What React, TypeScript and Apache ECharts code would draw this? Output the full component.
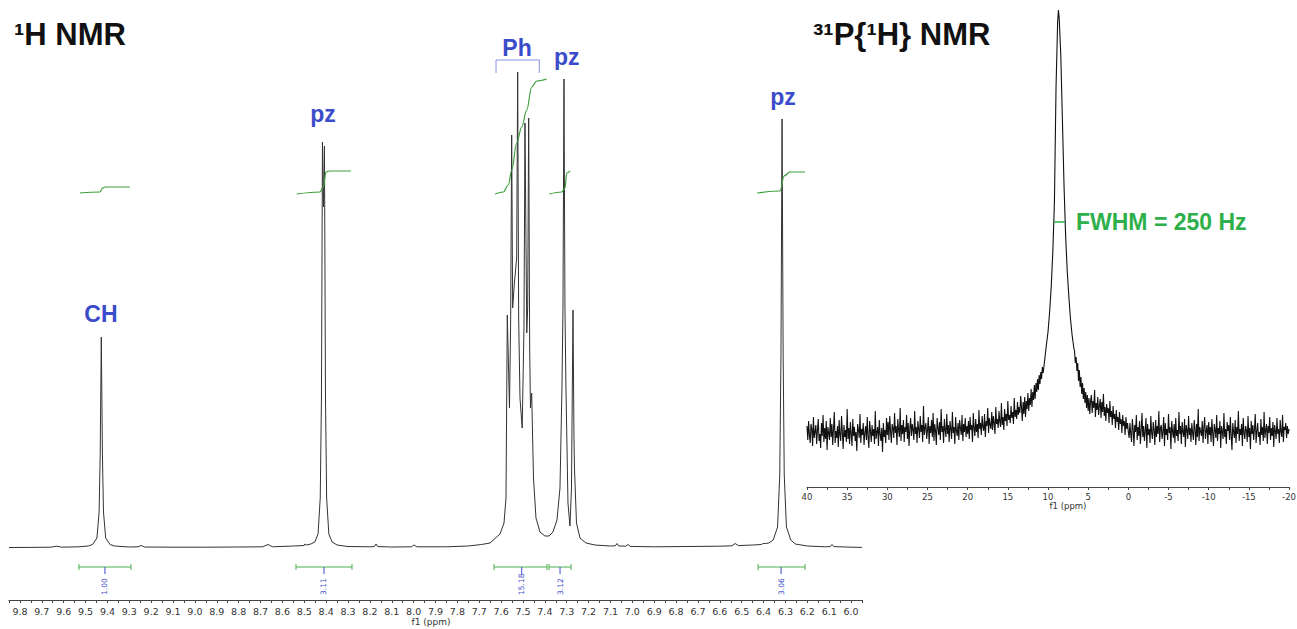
import React, { useEffect, useRef } from "react";
import * as echarts from "echarts";

// ---------- 1H NMR spectrum: [ppm, intensity] ----------
const H1_SPECTRUM: [number, number][] = [
  [9.85, 0.5], [9.75, 0.6], [9.66, 0.8], [9.63, 1.8], [9.61, 0.8], [9.53, 1.2],
  [9.488, 2.0], [9.468, 3.5], [9.448, 10], [9.438, 36], [9.433, 95], [9.428, 211], [9.423, 95], [9.418, 36], [9.408, 10], [9.388, 3.5], [9.368, 2.0],
  [9.3, 1.0], [9.26, 1.2], [9.245, 2.5], [9.23, 1.0], [9.1, 0.8], [8.95, 0.8], [8.8, 1.0], [8.69, 1.2], [8.666, 3.5], [8.645, 1.2], [8.55, 2.0], [8.5, 2.5], [8.497, 4], [8.49, 3], [8.47, 4],
  [8.452, 6], [8.437, 14], [8.427, 50], [8.4215, 150], [8.4168, 406], [8.4122, 341], [8.4077, 402], [8.403, 150], [8.3977, 50], [8.3877, 14], [8.3727, 6], [8.35, 3],
  [8.3, 1.5], [8.2, 1.2], [8.18, 1.4], [8.172, 4], [8.164, 1.4], [8.1, 1.0], [8.01, 1.2], [7.998, 3], [7.985, 1.2], [7.85, 1.2], [7.75, 2.0], [7.69, 3.5],
  [7.6508, 5], [7.6051, 14], [7.5868, 25], [7.5777, 50], [7.5718, 233], [7.5617, 140], [7.5563, 230], [7.5517, 413], [7.5472, 240], [7.5393, 265], [7.5289, 290], [7.5243, 476], [7.5198, 230], [7.5137, 150], [7.5037, 120], [7.4955, 220], [7.4909, 425], [7.4827, 215], [7.4786, 240], [7.474, 430], [7.4694, 200], [7.4658, 140], [7.4603, 155], [7.452, 70], [7.4406, 30], [7.4223, 16], [7.3995, 12], [7.3812, 12], [7.3629, 16], [7.3446, 28], [7.3309, 60], [7.3218, 160], [7.3172, 240], [7.3126, 469], [7.3081, 240], [7.3035, 160], [7.2943, 45], [7.2852, 22], [7.2783, 60], [7.276, 120], [7.2714, 238], [7.2669, 110], [7.2646, 80], [7.2554, 25], [7.2394, 10], [7.212, 5], [7.1708, 3],
  [7.1, 2.0], [7.078, 2.2], [7.07, 4.5], [7.062, 2.0], [7.03, 1.8], [7.02, 3.5], [7.01, 1.6], [6.9, 1.2], [6.75, 1.5], [6.6, 1.8], [6.545, 2.2], [6.53, 4.5], [6.515, 2.4], [6.45, 3.0], [6.41, 3.5], [6.402, 4.5], [6.39, 4.5],
  [6.376, 5], [6.356, 8], [6.336, 21], [6.326, 73], [6.3205, 193], [6.3155, 429], [6.3105, 193], [6.3055, 73], [6.2955, 21], [6.2755, 8], [6.255, 4],
  [6.2, 2.0], [6.12, 1.2], [6.095, 1.4], [6.087, 3.5], [6.079, 1.4], [6.0, 0.8], [5.95, 0.6],
];

// ---------- integral curves (green) ----------
const INT_CH: [number, number][] = [[9.5256, 355], [9.4342, 356], [9.4218, 360], [9.4113, 361], [9.297, 361]];
const INT_PZ1: [number, number][] = [[8.5347, 354], [8.4281, 356], [8.413, 361], [8.4007, 376], [8.3856, 377], [8.2864, 377]];
const INT_PH: [number, number][] = [[7.6279, 354], [7.5899, 356], [7.567, 363], [7.5515, 378], [7.5286, 405], [7.5058, 421], [7.4829, 438], [7.4601, 461], [7.4372, 467], [7.3915, 469]];
const INT_PZ2: [number, number][] = [[7.3796, 354], [7.3229, 356], [7.3078, 360], [7.3, 375], [7.2849, 377]];
const INT_PZ3: [number, number][] = [[6.4298, 355], [6.3246, 357], [6.3063, 372], [6.2789, 376], [6.2103, 376]];

// ---------- integration ranges ----------
const INT_FROM = [9.5302, 8.5379, 7.6325, 7.381, 6.4252];
const INT_TO = [9.2924, 8.2818, 7.3901, 7.2804, 6.2103];
const INT_CENTER = [9.4113, 8.4098, 7.5058, 7.3306, 6.32];
const INT_VALUES = ["1.00", "3.11", "15.18", "3.12", "3.06"];

// ---------- peak labels ----------
const PEAK_LABELS = ["CH", "pz", "Ph", "pz", "pz"];
const PEAK_LABEL_PPM = [9.4296, 8.414, 7.5273, 7.3, 6.3109];
const PEAK_LABEL_Y = [234, 434, 500, 491.5, 451];
const PH_BRACKET_PPM = [7.6233, 7.4253];
const PH_BRACKET_Y = [475, 488];

// ---------- 31P{1H} spectrum ----------
const P31_LEFT_START = 40;
const P31_RIGHT_START = 4.6;
const P31_STEP = 0.1;
const P31_LEFT = [
  61, 47, 66, 52, 44, 63, 58, 41, 70, 49,
  55, 62, 43, 57, 68, 46, 53, 39, 64, 51,
  72, 45, 59, 48, 66, 37, 60, 54, 47, 69,
  50, 63, 42, 58, 75, 44, 56, 49, 61, 40,
  67, 52, 46, 71, 55, 38, 62, 50, 57, 45,
  78, 48, 59, 43, 65, 53, 41, 68, 51, 60,
  46, 55, 36, 63, 57, 49, 73, 44, 58, 52,
  64, 42, 54, 61, 47, 70, 50, 39, 66, 56,
  45, 62, 51, 58, 43, 76, 48, 55, 60, 41,
  67, 53, 46, 59, 35, 64, 50, 57, 44, 69,
  52, 65, 47, 71, 56, 44, 63, 59, 49, 74,
  54, 61, 42, 68, 57, 50, 79, 46, 62, 53,
  67, 45, 60, 55, 72, 48, 64, 41, 58, 69,
  51, 63, 57, 47, 76, 53, 60, 44, 66, 58,
  49, 71, 55, 62, 45, 81, 52, 59, 64, 48,
  57, 70, 43, 61, 54, 67, 50, 74, 46, 63,
  56, 42, 69, 59, 52, 65, 47, 78, 55, 61,
  44, 68, 57, 50, 73, 53, 62, 45, 66, 58,
  48, 75, 54, 60, 43, 70, 56, 51, 64, 47,
  67, 59, 52, 72, 46, 63, 55, 69, 50, 61,
  53, 66, 48, 70, 57, 62, 45, 74, 59, 51,
  68, 55, 63, 49, 77, 58, 64, 52, 71, 60,
  56, 73, 50, 66, 61, 79, 54, 69, 62, 58,
  75, 57, 71, 64, 53, 80, 63, 68, 59, 76,
  65, 60, 84, 62, 70, 57, 78, 66, 73, 61,
  86, 67, 72, 64, 81, 69, 75, 63, 89, 70,
  77, 68, 85, 72, 80, 74, 91,
];
const P31_PEAK: [number, number][] = [
  [13.3, 80], [13.2, 66], [13.1, 85], [13.0, 73], [12.9, 90], [12.8, 70], [12.7, 86], [12.6, 78], [12.5, 94], [12.4, 76],
  [12.3, 89], [12.2, 82], [12.1, 98], [12.0, 80], [11.9, 95], [11.8, 87], [11.7, 102], [11.6, 88], [11.5, 104], [11.4, 95],
  [11.3, 108], [11.2, 97], [11.1, 112], [11.0, 103], [10.9, 115], [10.8, 108], [10.7, 120], [10.6, 114],
  [10.4, 128], [10.2, 142], [10.0, 155], [9.8, 175], [9.6, 200], [9.4, 235], [9.2, 285], [9.0, 400], [8.8, 465], [8.7, 477],
  [8.6, 468], [8.4, 430], [8.2, 365], [8.0, 300], [7.8, 250], [7.6, 215], [7.4, 190], [7.2, 168], [7.0, 152], [6.8, 140],
  [6.7, 136], [6.6, 124], [6.5, 130], [6.4, 116], [6.3, 124], [6.2, 106], [6.1, 117], [6.0, 100], [5.9, 110], [5.8, 93],
  [5.7, 104], [5.6, 88], [5.5, 99], [5.4, 84], [5.3, 95], [5.2, 79], [5.1, 92], [5.0, 76], [4.9, 89], [4.8, 73], [4.7, 86],
];
const P31_RIGHT = [
  92, 74, 86, 79, 97, 70, 84, 77, 90, 72,
  81, 88, 69, 85, 75, 93, 71, 80, 66, 83,
  74, 79, 64, 86, 70, 76, 62, 81, 68, 73,
  59, 77, 65, 70, 57, 75, 63, 68, 54, 72,
  61, 66, 52, 70, 58, 64, 55,
  49, 64, 53, 45, 68, 58, 41, 62, 55, 72,
  47, 60, 51, 66, 43, 57, 74, 50, 61, 46,
  56, 69, 39, 63, 52, 58, 44, 71, 54, 48,
  65, 57, 42, 67, 50, 61, 53, 76, 45, 59,
  62, 48, 55, 70, 41, 64, 52, 58, 47, 73,
  54, 60, 38, 66, 56, 49, 63, 44, 69, 51,
  57, 46, 75, 53, 61, 43, 65, 55, 50, 68,
  40, 62, 57, 48, 71, 52, 59, 45, 64, 54,
  47, 67, 58, 42, 63, 50, 78, 46, 60, 55,
  51, 66, 44, 59, 70, 48, 56, 62, 43, 65,
  52, 60, 45, 68, 54, 41, 63, 57, 49, 72,
  46, 59, 53, 66, 39, 61, 55, 48, 74, 50,
  58, 43, 65, 56, 62, 47, 70, 51, 37, 64,
  55, 49, 67, 44, 60, 53, 76, 46, 58, 52,
  63, 41, 69, 54, 48, 61, 57, 45, 71, 50,
  59, 38, 66, 53, 62, 47, 58, 73, 44, 56,
  64, 50, 55, 42, 68, 52, 60, 46, 75, 49,
  57, 63, 43, 61, 54, 70, 47, 59, 51, 65,
  40, 62, 56, 48, 69, 53, 58, 44, 67, 55,
  50, 72, 45, 60, 57, 64, 49, 61, 53, 58,
];
const FWHM_PPM = [9.25, 7.88];
const FWHM_Y = 265;

const BLUE = "#3b4cca";
const GREEN_INT = "#3c9f3c";
const GREEN_BAR = "#4cae4c";
const GREEN_TEXT = "#2db04b";
const AXIS_FONT = "DejaVu Sans";
const BOLD_FONT = "Liberation Sans";

const r2 = (v: number) => Math.round(v * 100) / 100;
const isTenth = (v: number) => Math.abs(v * 10 - Math.round(v * 10)) < 1e-6;

export default function App() {
  const ref = useRef<HTMLDivElement>(null);

  useEffect(() => {
    document.body.style.margin = "0";
    const chart = echarts.init(ref.current!, null, { renderer: "svg" });

    const p31Data: [number, number][] = [
      ...P31_LEFT.map((v, i) => [r2(P31_LEFT_START - i * P31_STEP), v] as [number, number]),
      ...P31_PEAK,
      ...P31_RIGHT.map((v, i) => [r2(P31_RIGHT_START - i * P31_STEP), v] as [number, number]),
    ];

    const integralCurves = [INT_CH, INT_PZ1, INT_PH, INT_PZ2, INT_PZ3].map((d) => ({
      type: "line",
      xAxisIndex: 0,
      yAxisIndex: 0,
      data: d,
      symbol: "none",
      smooth: 0.35,
      smoothMonotone: "x",
      lineStyle: { color: GREEN_INT, width: 1.2 },
      z: 3,
      silent: true,
    }));

    const option: any = {
      animation: false,
      textStyle: { fontFamily: AXIS_FONT },
      grid: [
        { left: 9, top: 0, width: 853, height: 600, containLabel: false, outerBoundsMode: "none" },
        { left: 807, top: 0, width: 482, height: 487, containLabel: false, outerBoundsMode: "none" },
      ],
      xAxis: [
        {
          gridIndex: 0,
          type: "value",
          inverse: true,
          min: 5.95,
          max: 9.85,
          interval: 0.05,
          axisLine: { show: true, onZero: false, lineStyle: { color: "#444", width: 1 } },
          axisTick: { show: true, length: 3, lineStyle: { color: "#444" } },
          axisLabel: {
            formatter: (v: number) => (isTenth(v) ? v.toFixed(1) : ""),
            fontSize: 9.5,
            color: "#333",
            margin: 6,
            fontFamily: AXIS_FONT,
          },
          splitLine: { show: false },
          name: "f1 (ppm)",
          nameLocation: "middle",
          nameGap: 17,
          nameMoveOverlap: false,
          nameTextStyle: { fontSize: 9, color: "#333", fontFamily: AXIS_FONT, padding: [0, 9, 0, 0] },
        },
        {
          gridIndex: 1,
          type: "value",
          inverse: true,
          min: -20,
          max: 40,
          interval: 5,
          axisLine: { show: true, onZero: false, lineStyle: { color: "#444", width: 1 } },
          axisTick: { show: true, length: 3, lineStyle: { color: "#444" } },
          minorTick: { show: true, splitNumber: 2, length: 3, lineStyle: { color: "#444" } },
          axisLabel: { fontSize: 8.5, color: "#333", margin: 5, fontFamily: AXIS_FONT },
          splitLine: { show: false },
          name: "f1 (ppm)",
          nameLocation: "middle",
          nameGap: 14,
          nameMoveOverlap: false,
          nameTextStyle: { fontSize: 8.5, color: "#333", fontFamily: AXIS_FONT, padding: [0, 0, 0, 40] },
        },
      ],
      yAxis: [
        { gridIndex: 0, type: "value", min: -52, max: 548, show: false, splitLine: { show: false } },
        { gridIndex: 1, type: "value", min: 0, max: 487, show: false, splitLine: { show: false } },
      ],
      graphic: [
        {
          type: "text",
          x: 14,
          y: 34.5,
          style: { text: "¹H NMR", fontSize: 31, fontWeight: "bold", fontFamily: BOLD_FONT, fill: "#111", align: "left", verticalAlign: "middle" },
        },
        {
          type: "text",
          x: 813,
          y: 34.5,
          style: { text: "³¹P{¹H} NMR", fontSize: 31, fontWeight: "bold", fontFamily: BOLD_FONT, fill: "#111", align: "left", verticalAlign: "middle" },
        },
        {
          type: "text",
          x: 1076,
          y: 222,
          style: { text: "FWHM = 250 Hz", fontSize: 23, fontWeight: "bold", fontFamily: BOLD_FONT, fill: GREEN_TEXT, align: "left", verticalAlign: "middle" },
        },
      ],
      series: [
        {
          type: "line",
          xAxisIndex: 0,
          yAxisIndex: 0,
          data: H1_SPECTRUM,
          symbol: "none",
          lineStyle: { color: "#333", width: 1 },
          z: 2,
          silent: true,
        },
        ...integralCurves,
        {
          type: "custom",
          xAxisIndex: 0,
          yAxisIndex: 0,
          silent: true,
          data: INT_FROM.map((f, i) => [f, INT_TO[i], INT_CENTER[i]]),
          renderItem: (params: any, api: any) => {
            const a = api.coord([api.value(0), -19]);
            const b = api.coord([api.value(1), -19]);
            const c = api.coord([api.value(2), -19]);
            const label = INT_VALUES[params.dataIndex];
            const ls = { stroke: GREEN_BAR, lineWidth: 1 };
            return {
              type: "group",
              children: [
                { type: "line", shape: { x1: a[0], y1: a[1], x2: b[0], y2: b[1] }, style: ls },
                { type: "line", shape: { x1: a[0], y1: a[1] - 3, x2: a[0], y2: a[1] + 3 }, style: ls },
                { type: "line", shape: { x1: b[0], y1: b[1] - 3, x2: b[0], y2: b[1] + 3 }, style: ls },
                { type: "line", shape: { x1: c[0], y1: c[1], x2: c[0], y2: c[1] + 7 }, style: { stroke: BLUE, lineWidth: 1 } },
                {
                  type: "text",
                  x: c[0],
                  y: c[1] + 28,
                  rotation: Math.PI / 2,
                  style: { text: label, fill: BLUE, fontSize: 7.5, fontFamily: AXIS_FONT, align: "left", verticalAlign: "middle" },
                },
              ],
            };
          },
        },
        {
          type: "custom",
          xAxisIndex: 0,
          yAxisIndex: 0,
          silent: true,
          data: PEAK_LABEL_PPM.map((p, i) => [p, PEAK_LABEL_Y[i]]),
          renderItem: (params: any, api: any) => {
            const p = api.coord([api.value(0), api.value(1)]);
            return {
              type: "text",
              x: p[0],
              y: p[1],
              style: {
                text: PEAK_LABELS[params.dataIndex],
                fill: BLUE,
                fontSize: 23,
                fontWeight: "bold",
                fontFamily: BOLD_FONT,
                align: "center",
                verticalAlign: "middle",
              },
            };
          },
        },
        {
          type: "custom",
          xAxisIndex: 0,
          yAxisIndex: 0,
          silent: true,
          data: [[PH_BRACKET_PPM[0], PH_BRACKET_PPM[1], PH_BRACKET_Y[0], PH_BRACKET_Y[1]]],
          renderItem: (params: any, api: any) => {
            const lb = api.coord([api.value(0), api.value(2)]);
            const lt = api.coord([api.value(0), api.value(3)]);
            const rt = api.coord([api.value(1), api.value(3)]);
            const rb = api.coord([api.value(1), api.value(2)]);
            return {
              type: "polyline",
              shape: { points: [lb, lt, rt, rb] },
              style: { stroke: "#8a95e0", lineWidth: 1, fill: "none" },
            };
          },
        },
        {
          type: "line",
          xAxisIndex: 1,
          yAxisIndex: 1,
          data: p31Data,
          symbol: "none",
          lineStyle: { color: "#111", width: 1.1 },
          z: 2,
          silent: true,
        },
        {
          type: "line",
          xAxisIndex: 1,
          yAxisIndex: 1,
          data: [[FWHM_PPM[0], FWHM_Y], [FWHM_PPM[1], FWHM_Y]],
          symbol: "none",
          lineStyle: { color: GREEN_TEXT, width: 1.5 },
          z: 4,
          silent: true,
        },
      ],
    };

    chart.setOption(option);
    return () => chart.dispose();
  }, []);

  return <div ref={ref} style={{ width: 1297, height: 629 }} />;
}
